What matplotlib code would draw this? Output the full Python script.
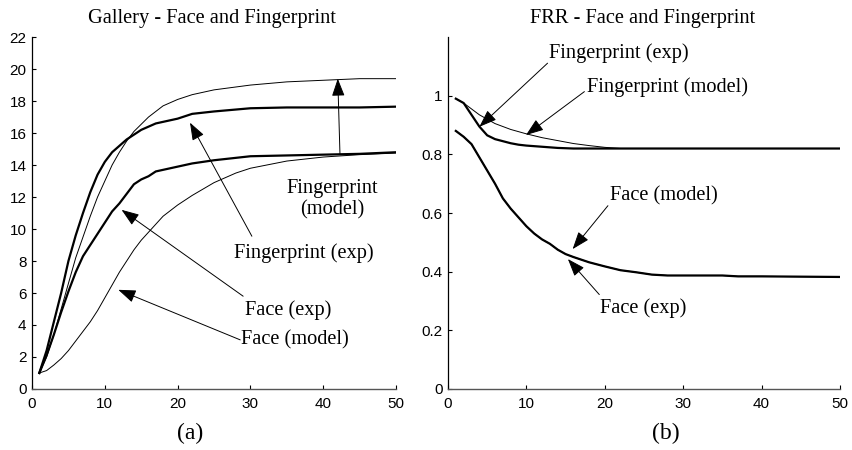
import numpy as np
import matplotlib
matplotlib.use('Agg')
import matplotlib.pyplot as plt

# --- Gallery (a) ---
x_fp_model = [1, 2, 3, 4, 5, 6, 7, 8, 9, 10, 11, 12, 13, 14, 16, 18, 20, 22, 25, 30, 35, 40, 45, 50]
fp_model = [1.0, 2.0, 3.4, 5.0, 6.6, 8.2, 9.5, 10.8, 12.0, 13.0, 14.0, 14.8, 15.5, 16.1, 17.0, 17.7,
            18.1, 18.4, 18.7, 19.0, 19.2, 19.3, 19.4, 19.4]

x_fp_exp = [1, 2, 3, 4, 5, 6, 7, 8, 9, 10, 11, 12, 13, 14, 15, 17, 20, 22, 25, 30, 35, 40, 45, 50]
fp_exp = [1.0, 2.4, 4.2, 6.0, 8.0, 9.6, 11.0, 12.3, 13.4, 14.2, 14.8, 15.2, 15.6, 15.9, 16.2, 16.6,
          16.9, 17.2, 17.35, 17.55, 17.6, 17.6, 17.6, 17.65]

x_face_exp = [1, 2, 3, 4, 5, 6, 7, 8, 9, 10, 11, 12, 13, 14, 15, 16, 17, 18, 20, 22, 25, 30, 35, 40, 45, 50]
face_exp = [1.0, 2.1, 3.4, 4.8, 6.1, 7.3, 8.3, 9.0, 9.7, 10.4, 11.1, 11.6, 12.2, 12.8, 13.1, 13.3,
            13.6, 13.7, 13.9, 14.1, 14.3, 14.55, 14.6, 14.65, 14.7, 14.8]

x_face_model = [1, 2, 3, 4, 5, 6, 7, 8, 9, 10, 11, 12, 13, 14, 15, 16, 17, 18, 20, 22, 25, 28, 30, 35, 40, 45, 50]
face_model = [1.0, 1.15, 1.5, 1.9, 2.4, 3.0, 3.6, 4.2, 4.9, 5.7, 6.5, 7.3, 8.0, 8.7, 9.3, 9.8,
              10.3, 10.8, 11.5, 12.1, 12.9, 13.5, 13.8, 14.25, 14.5, 14.65, 14.75]

# --- FRR (b) ---
x_frr_fp_model = [1, 2, 3, 4, 5, 6, 8, 10, 12, 14, 16, 18, 20, 22, 25, 30, 40, 50]
frr_fp_model = [0.99, 0.975, 0.955, 0.935, 0.92, 0.905, 0.885, 0.87, 0.857, 0.847, 0.837, 0.83,
                0.824, 0.82, 0.82, 0.82, 0.82, 0.82]

x_frr_fp_exp = [1, 2, 3, 4, 5, 6, 7, 8, 9, 10, 12, 14, 16, 20, 30, 40, 50]
frr_fp_exp = [0.99, 0.975, 0.935, 0.895, 0.865, 0.852, 0.845, 0.838, 0.833, 0.83, 0.826, 0.822,
              0.82, 0.82, 0.82, 0.82, 0.82]

x_frr_face = [1, 2, 3, 4, 5, 6, 7, 8, 9, 10, 11, 12, 13, 14, 15, 16, 18, 20, 22, 24, 26, 28, 30, 35, 37, 40, 50]
frr_face_exp = [0.88, 0.86, 0.835, 0.79, 0.745, 0.70, 0.65, 0.615, 0.585, 0.555, 0.53, 0.51, 0.495,
                0.475, 0.46, 0.45, 0.432, 0.418, 0.405, 0.398, 0.39, 0.387, 0.387, 0.387, 0.384,
                0.384, 0.382]
frr_face_model = [0.88, 0.86, 0.835, 0.79, 0.745, 0.70, 0.65, 0.615, 0.585, 0.555, 0.53, 0.51, 0.495,
                  0.475, 0.46, 0.45, 0.432, 0.418, 0.405, 0.398, 0.39, 0.387, 0.387, 0.387, 0.384,
                  0.384, 0.382]

serif = 'Liberation Serif'
sans = 'Liberation Sans'
txt_size = 14.7

fig = plt.figure(figsize=(8.52, 4.5), dpi=100)
ax1 = fig.add_axes([0.0376, 0.1356, 0.4272, 0.782])
ax2 = fig.add_axes([0.5258, 0.1356, 0.4601, 0.782])

thick = 1.6
thin = 0.7

ax1.plot(x_fp_model, fp_model, color='k', lw=thin)
ax1.plot(x_fp_exp, fp_exp, color='k', lw=thick)
ax1.plot(x_face_exp, face_exp, color='k', lw=thick)
ax1.plot(x_face_model, face_model, color='k', lw=thin)

ax2.plot(x_frr_fp_model, frr_fp_model, color='k', lw=thin)
ax2.plot(x_frr_fp_exp, frr_fp_exp, color='k', lw=thick)
ax2.plot(x_frr_face, frr_face_exp, color='k', lw=thick)
ax2.plot(x_frr_face, frr_face_model, color='k', lw=thin)

ax1.set_xlim(0, 50)
ax1.set_ylim(0, 22)
ax1.set_xticks(range(0, 51, 10))
ax1.set_yticks(range(0, 23, 2))

ax2.set_xlim(0, 50)
ax2.set_ylim(0, 1.2)
ax2.set_xticks(range(0, 51, 10))
ax2.set_yticks([0, 0.2, 0.4, 0.6, 0.8, 1])
ax2.set_yticklabels(['0', '0.2', '0.4', '0.6', '0.8', '1'])

for ax in (ax1, ax2):
    ax.spines['top'].set_visible(False)
    ax.spines['right'].set_visible(False)
    ax.spines['left'].set_linewidth(0.9)
    ax.spines['bottom'].set_linewidth(1.0)
    ax.spines['bottom'].set_color('#555555')
    ax.tick_params(direction='in', length=3, width=0.8, labelsize=11)
    ax.tick_params(axis='x', pad=6)
    ax.tick_params(axis='y', pad=4)
    for lab in ax.get_xticklabels() + ax.get_yticklabels():
        lab.set_family(sans)

fig.text(212 / 852, 1 - 18 / 450, 'Gallery - Face and Fingerprint', ha='center', va='center',
         family=serif, fontsize=txt_size)
fig.text(643 / 852, 1 - 18 / 450, 'FRR - Face and Fingerprint', ha='center', va='center',
         family=serif, fontsize=txt_size)

arrow = dict(arrowstyle='-|>,head_length=0.6,head_width=0.22', color='k', lw=0.7,
             mutation_scale=18, shrinkA=0, shrinkB=0)

def label(ax, text, xy):
    ax.text(xy[0], xy[1], text, ha='center', va='center', family=serif,
            fontsize=txt_size, linespacing=1.2)

def arr(ax, head, tail):
    ax.annotate('', xy=head, xytext=tail, arrowprops=arrow)

# panel (a)
arr(ax1, (42.0, 19.4), (42.3, 14.7))
label(ax1, 'Fingerprint\n(model)', (41.3, 11.85))
arr(ax1, (21.7, 16.65), (30.2, 9.55))
label(ax1, 'Fingerprint (exp)', (37.4, 8.5))
arr(ax1, (12.3, 11.2), (29.0, 5.8))
label(ax1, 'Face (exp)', (35.2, 4.95))
arr(ax1, (11.85, 6.2), (28.6, 3.07))
label(ax1, 'Face (model)', (36.1, 3.07))

# panel (b)
arr(ax2, (4.0, 0.894), (12.7, 1.111))
label(ax2, 'Fingerprint (exp)', (21.75, 1.146))
arr(ax2, (9.95, 0.866), (17.4, 1.014))
label(ax2, 'Fingerprint (model)', (28.0, 1.031))
arr(ax2, (15.9, 0.477), (20.4, 0.625))
label(ax2, 'Face (model)', (27.6, 0.66))
arr(ax2, (15.3, 0.443), (19.3, 0.322))
label(ax2, 'Face (exp)', (24.9, 0.277))

fig.text(190 / 852, 1 - 433 / 450, '(a)', ha='center', va='center', family=serif, fontsize=17)
fig.text(666 / 852, 1 - 433 / 450, '(b)', ha='center', va='center', family=serif, fontsize=17)

fig.savefig('out.png', dpi=100)
